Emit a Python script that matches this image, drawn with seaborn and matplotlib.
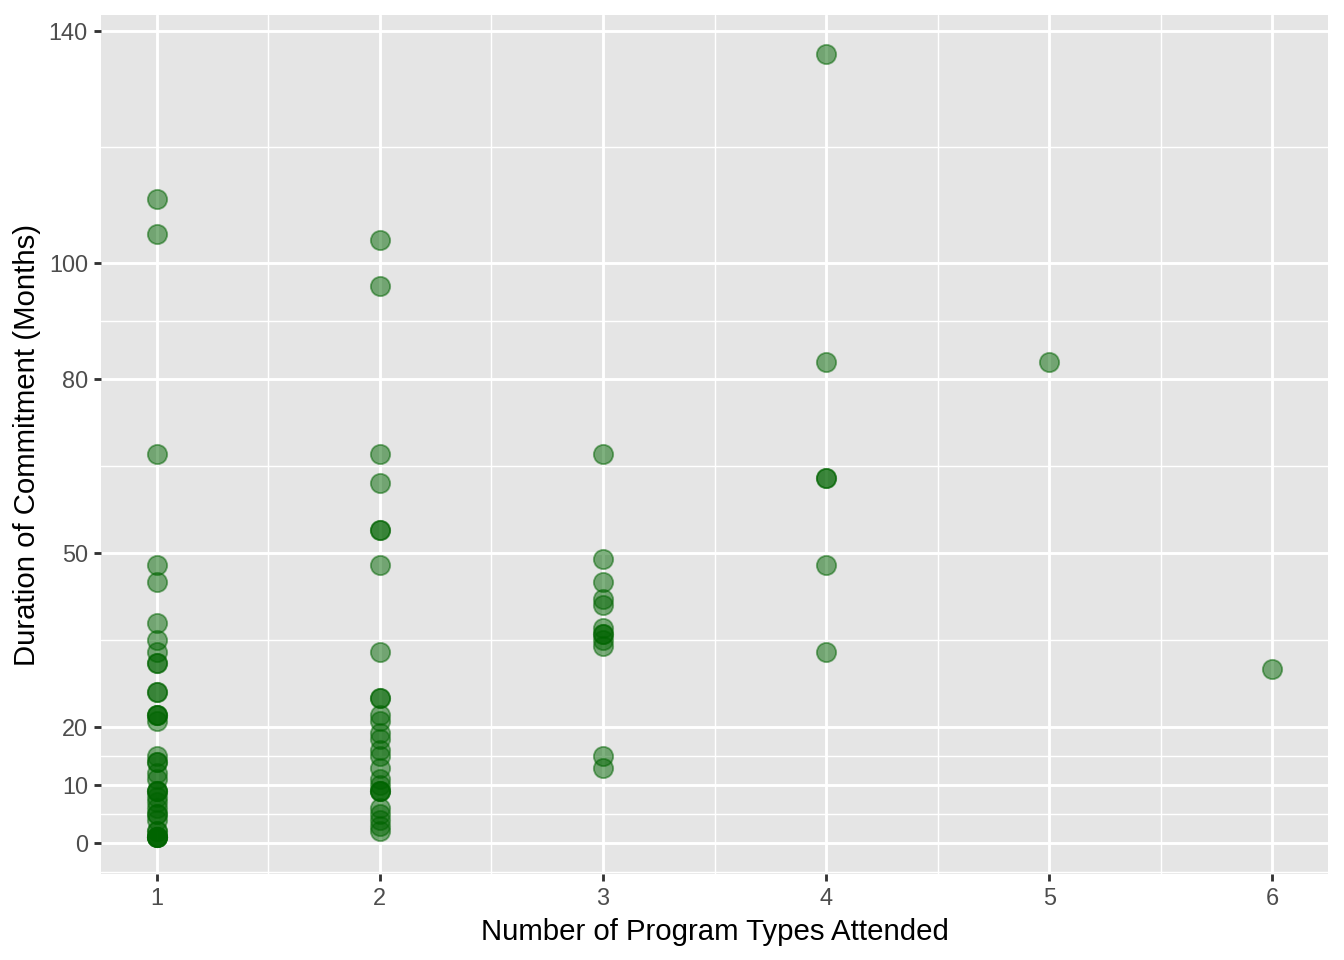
import numpy as np
import pandas as pd
import seaborn as sns
from matplotlib import pyplot as plt

# months of commitment, grouped by number of program types attended
types_1 = [111, 105, 67, 48, 45, 38, 35, 33, 31, 31, 26, 26, 22, 22, 22, 21, 15, 14, 14,
           12, 11, 9, 9, 9, 8, 7, 6, 5, 5, 4, 2, 2, 1, 1, 1, 1, 1]
types_2 = [104, 96, 67, 62, 54, 54, 48, 33, 25, 25, 22, 21, 19, 18, 16, 15, 13, 11, 10,
           9, 9, 9, 6, 5, 4, 3, 2]
types_3 = [67, 49, 45, 42, 41, 37, 36, 36, 35, 34, 15, 13]
types_4 = [136, 83, 63, 63, 48, 33]
types_5 = [83]
types_6 = [30]

y_breaks = [0, 10, 20, 50, 80, 100, 140]
y_minor = [-5, 5, 15, 35, 65, 90, 120]
x_breaks = [1, 2, 3, 4, 5, 6]

groups = [types_1, types_2, types_3, types_4, types_5, types_6]
df = pd.DataFrame({
    "programs": np.concatenate([[i + 1] * len(g) for i, g in enumerate(groups)]),
    "months": np.concatenate(groups),
})

sns.set_style("darkgrid", {
    "axes.facecolor": "#E5E5E5",
    "grid.color": "white",
    "axes.edgecolor": "none",
})
plt.rcParams["font.family"] = ["Liberation Sans", "DejaVu Sans"]

fig, ax = plt.subplots(figsize=(7, 5), dpi=192)
fig.subplots_adjust(left=101 / 1344, right=1328 / 1344, top=1 - 15 / 960, bottom=1 - 874 / 960)

sns.scatterplot(data=df, x="programs", y="months", ax=ax,
                s=52, color="#006400", alpha=0.5,
                edgecolor="#006400", linewidth=0.7, zorder=3, legend=False)

ax.set_xlim(0.75, 6.25)
ax.set_ylim(-5.35, 142.76)
ax.set_xticks(x_breaks)
ax.set_xticks(np.arange(1.5, 6, 1), minor=True)
ax.set_yticks(y_breaks)
ax.set_yticks(y_minor, minor=True)

ax.grid(which="major", color="white", linewidth=1.07)
ax.grid(which="minor", color="white", linewidth=0.53)
ax.set_axisbelow(True)

ax.tick_params(which="major", length=2.75, width=1.07, color="#333333",
               labelcolor="#4D4D4D", labelsize=8.8, pad=2.2, bottom=True, left=True)
ax.tick_params(which="minor", length=0)

ax.set_xlabel("Number of Program Types Attended", fontsize=11, color="black", labelpad=2.75)
ax.set_ylabel("Duration of Commitment (Months)", fontsize=11, color="black", labelpad=2.75)

for s in ax.spines.values():
    s.set_visible(False)

fig.savefig("out.png", dpi=192)
